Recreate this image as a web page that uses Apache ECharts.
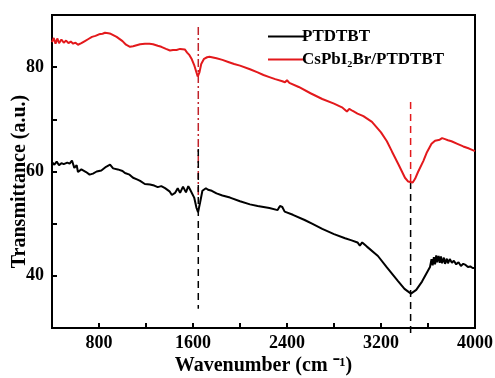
<!DOCTYPE html>
<html><head><meta charset="utf-8">
<script src="https://cdn.jsdelivr.net/npm/echarts@6/dist/echarts.min.js"></script>
<style>html,body{margin:0;padding:0;background:#fff}#c{width:495px;height:378px}</style>
</head><body><div id="c"></div>
<script>
const redWavenumber = [400,415,430,445,460,480,500,520,540,560,580,600,621,650,680,710,740,770,800,830,851,880,900,950,1000,1030,1064,1090,1120,1150,1191,1230,1260,1300,1330,1370,1404,1430,1460,1490,1506,1530,1550,1570,1590,1610,1625,1640,1655,1670,1694,1720,1740,1800,1850,1900,1950,2000,2085,2150,2200,2250,2300,2360,2383,2400,2420,2500,2600,2700,2800,2868,2890,2910,2930,2960,3000,3050,3123,3200,3250,3294,3350,3404,3430,3447,3470,3490,3515,3560,3591,3630,3660,3700,3720,3745,3770,3800,3850,3900,3950,4000];
const redTransmittance = [84.8,85.6,84.5,85.5,84.6,85.3,84.7,85.1,84.6,84.9,84.5,84.7,84.3,84.6,85.0,85.4,85.8,86.0,86.3,86.4,86.6,86.5,86.4,85.8,85.0,84.3,83.9,84.0,84.2,84.4,84.5,84.5,84.4,84.1,83.9,83.5,83.2,83.3,83.3,83.5,83.6,83.4,82.8,82.3,81.5,80.4,79.3,78.2,79.0,80.6,81.6,81.9,82.0,81.7,81.4,81.0,80.6,80.3,79.6,79.0,78.5,78.1,77.7,77.3,77.1,77.5,77.0,76.2,75.0,73.9,73.0,72.3,71.9,71.5,72.0,71.6,71.1,70.6,69.5,67.5,65.8,63.8,61.3,58.8,58.1,57.8,57.9,58.6,59.9,62.0,63.7,65.3,65.9,66.1,66.4,66.2,66.0,65.8,65.3,64.8,64.4,63.9];
const blackWavenumber = [400,420,440,460,480,500,530,550,570,590,610,621,650,690,720,749,780,820,860,894,920,960,1000,1021,1060,1090,1123,1150,1190,1234,1270,1300,1330,1362,1400,1420,1447,1470,1490,1515,1540,1560,1574,1590,1610,1630,1643,1660,1680,1710,1728,1760,1800,1850,1915,2000,2085,2150,2250,2320,2340,2360,2380,2450,2550,2613,2700,2800,2894,2950,3000,3020,3040,3080,3174,3250,3345,3400,3455,3500,3549,3590,3617,3630,3640,3650,3660,3670,3677,3690,3700,3710,3720,3735,3745,3760,3770,3785,3804,3820,3840,3860,3880,3900,3920,3940,3960,3980,4000];
const blackTransmittance = [61.8,61.3,61.9,61.2,61.6,61.4,61.7,61.5,62.1,60.7,61.2,59.9,60.4,59.9,59.4,59.6,60.0,60.2,60.9,61.3,60.6,60.4,60.1,59.7,59.4,58.8,58.5,58.2,57.6,57.5,57.3,57.0,57.2,56.8,56.2,55.5,55.9,56.8,55.9,57.1,56.0,57.2,56.6,56.8,55.0,53.0,52.2,54.0,56.3,56.8,56.5,56.3,55.8,55.4,55.0,54.3,53.7,53.4,53.0,52.6,53.4,53.2,52.3,51.7,50.7,50.0,49.0,48.0,47.2,46.8,46.4,45.8,46.4,45.6,43.8,41.6,39.0,37.5,36.6,37.3,38.9,40.6,41.7,43.2,42.0,43.6,42.2,43.9,42.6,43.8,42.5,43.7,42.4,43.5,42.3,43.3,42.4,43.2,42.5,42.9,42.2,42.6,41.9,42.3,42.1,41.7,41.8,41.5,41.5];
const xTickLabels = [800,1600,2400,3200,4000];
const yTickLabels = [40,60,80];
const seriesNames = ['PTDTBT','CsPbI\u2082Br/PTDTBT'];
const peakLines = [1645, 3452];

const zip = (a,b)=>a.map((v,i)=>[v,b[i]]);
const font = 'Liberation Serif, Times New Roman, serif';
const chart = echarts.init(document.getElementById('c'));
chart.setOption({
  animation:false,
  backgroundColor:'#fff',
  grid:{left:52,top:15,right:20,bottom:50,show:true,borderColor:'#000',borderWidth:2,backgroundColor:'transparent',
        containLabel:false,outerBoundsMode:'none'},
  legend:{
    data:seriesNames, orient:'vertical', left:263, top:23, itemWidth:37, itemHeight:14, itemGap:6,
    icon:'path://M0,6 L35,6 L35,8 L0,8 Z',
    textStyle:{fontFamily:font,fontWeight:'bold',fontSize:17,color:'#000',padding:[0,0,0,-8]}
  },
  xAxis:{
    type:'value', min:400, max:4000, interval:400,
    name:'Wavenumber (cm \u207B\u00B9)', nameLocation:'middle', nameGap:28, nameMoveOverlap:false,
    nameTextStyle:{fontFamily:font,fontWeight:'bold',fontSize:20,color:'#000'},
    axisLine:{show:true,lineStyle:{color:'#000',width:2}},
    axisTick:{inside:true,length:5,lineStyle:{color:'#000',width:2}},
    splitLine:{show:false},
    axisLabel:{margin:6,fontFamily:font,fontWeight:'bold',fontSize:18,color:'#000',
      formatter:v=>xTickLabels.includes(v)?String(v):''}
  },
  yAxis:{
    type:'value', min:30, max:90, interval:10,
    name:'Transmittance (a.u.)', nameLocation:'middle', nameGap:22, nameRotate:90, nameMoveOverlap:false,
    nameTextStyle:{fontFamily:font,fontWeight:'bold',fontSize:20,color:'#000',padding:[0,20,0,0]},
    axisLine:{show:true,lineStyle:{color:'#000',width:2}},
    axisTick:{inside:true,length:5,lineStyle:{color:'#000',width:2}},
    splitLine:{show:false},
    axisLabel:{margin:8,fontFamily:font,fontWeight:'bold',fontSize:18,color:'#000',
      formatter:v=>yTickLabels.includes(v)?String(v):''}
  },
  series:[
    {name:seriesNames[0],type:'line',data:zip(blackWavenumber,blackTransmittance),showSymbol:false,symbol:'none',
     lineStyle:{color:'#000',width:2},itemStyle:{color:'#000'},z:3},
    {name:seriesNames[1],type:'line',data:zip(redWavenumber,redTransmittance),showSymbol:false,symbol:'none',
     lineStyle:{color:'#e3191c',width:2},itemStyle:{color:'#e3191c'},z:3},
    {type:'line',data:[[peakLines[0],87.7],[peakLines[0],55]],symbol:'none',silent:true,
     lineStyle:{color:'#c0222a',width:1.5,type:[8,3,2,3]},z:2},
    {type:'line',data:[[peakLines[0],64.3],[peakLines[0],33.7]],symbol:'none',silent:true,
     lineStyle:{color:'#000',width:1.5,type:[7,5]},z:2},
    {type:'line',data:[[peakLines[1],73.3],[peakLines[1],57.6]],symbol:'none',silent:true,
     lineStyle:{color:'#e3191c',width:1.5,type:[7,5]},z:2},
    {type:'line',data:[[peakLines[1],58.0],[peakLines[1],28.6]],symbol:'none',silent:true,clip:false,
     lineStyle:{color:'#000',width:1.5,type:[7,5]},z:2}
  ]
});
</script></body></html>
